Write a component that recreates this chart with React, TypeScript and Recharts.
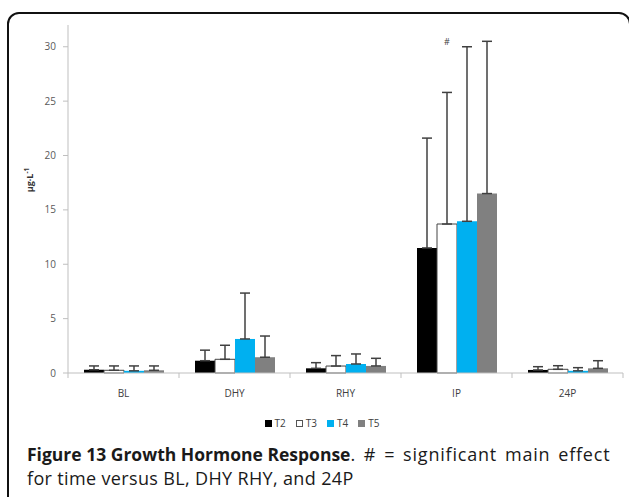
import React from 'react';
import { BarChart, Bar, XAxis, YAxis, ErrorBar, Legend, LabelList } from 'recharts';

const categories = ['BL', 'DHY', 'RHY', 'IP', '24P'];
const seriesNames = ['T2', 'T3', 'T4', 'T5'];

// means
const t2Means = [0.3, 1.13, 0.43, 11.5, 0.28];
const t3Means = [0.25, 1.26, 0.64, 13.7, 0.34];
const t4Means = [0.2, 3.13, 0.83, 13.95, 0.2];
const t5Means = [0.25, 1.45, 0.65, 16.5, 0.43];

// upper error (SD), only drawn upward
const t2Err = [0.35, 0.97, 0.52, 10.1, 0.3];
const t3Err = [0.4, 1.29, 0.96, 12.1, 0.33];
const t4Err = [0.45, 4.22, 0.92, 16.05, 0.29];
const t5Err = [0.4, 1.95, 0.7, 14.0, 0.7];

const yTicks = [0, 5, 10, 15, 20, 25, 30];

// significance marks, shown over the T3 bar
const significance = ['', '', '', '#', ''];
const significanceLevel = 30.5;

const fills: Record<string, string> = { T2: '#000000', T3: '#ffffff', T4: '#00b0f0', T5: '#808080' };

const means = [t2Means, t3Means, t4Means, t5Means];
const errs = [t2Err, t3Err, t4Err, t5Err];

const data = categories.map((name, i) => {
  const row: any = { name };
  seriesNames.forEach((s, k) => {
    row[s] = means[k][i];
    row[s + 'err'] = [0, errs[k][i]];
  });
  return row;
});

const font = '"Open Sans", sans-serif';
const X_TICK_MARGIN = 17;

// category label plus tick marks at the category boundaries
const CatTick = (props: any) => {
  const { x, y, width, payload, index, visibleTicksCount } = props;
  const band = width / visibleTicksCount;
  const axisY = y - X_TICK_MARGIN;
  return (
    <g>
      {index === 0 ? <line x1={x - band / 2} x2={x - band / 2} y1={axisY} y2={axisY + 5} stroke="#bfbfbf" /> : null}
      <line x1={x + band / 2} x2={x + band / 2} y1={axisY} y2={axisY + 5} stroke="#bfbfbf" />
      <text x={x} y={y} dy="0.71em" textAnchor="middle" fontFamily={font} fontSize={10} fill="#404040">
        {payload.value}
      </text>
    </g>
  );
};

const YLabel = () => (
  <text x={33} y={180} transform="rotate(-90 33 180)" textAnchor="middle" fontFamily={font} fontSize={9} fontWeight={700} fill="#333">
    µg·L<tspan dy={-4} fontSize={6.5}>-1</tspan>
  </text>
);

const renderMark = (props: any) => {
  const vb = props.viewBox || props;
  const idx = props.index;
  const mark = significance[idx];
  if (!mark) return null;
  const value = t3Means[idx];
  const unit = vb.height / value;
  const base = vb.y + vb.height;
  return (
    <text x={vb.x + vb.width / 2} y={base - significanceLevel * unit} textAnchor="middle" dominantBaseline="central" fontFamily={font} fontSize={9} fill="#404040">
      {mark}
    </text>
  );
};

const renderLegend = () => (
  <div style={{ display: 'flex', justifyContent: 'center', gap: 10, fontFamily: font, fontSize: 10, color: '#404040', lineHeight: '12px' }}>
    {seriesNames.map((n) => (
      <span key={n} style={{ display: 'flex', alignItems: 'center' }}>
        <span style={{ width: 7, height: 7, boxSizing: 'border-box', background: fills[n], border: n === 'T3' ? '1px solid #555' : 'none', marginRight: 3 }} />
        {n}
      </span>
    ))}
  </div>
);

export default function App() {
  return (
    <div style={{ position: 'absolute', left: 0, top: 0, width: 629, height: 497, overflow: 'hidden', background: '#fff' }}>
      <div style={{ position: 'absolute', left: 7, top: 12, width: 624, height: 520, border: '2px solid #111', borderRadius: 12, boxSizing: 'border-box' }} />
      <div style={{ position: 'absolute', left: 0, top: 0 }}>
        <BarChart width={629} height={440} data={data} margin={{ top: 25, right: 6, left: 0, bottom: 37 }} barGap={0} barSize={20}>
          <XAxis dataKey="name" height={30} tickSize={0} tickMargin={X_TICK_MARGIN} tickLine={false}
            axisLine={{ stroke: '#bfbfbf' }} tick={<CatTick />} interval={0} />
          <YAxis width={68} domain={[0, 32]} ticks={yTicks} tickSize={5} tickMargin={7}
            axisLine={{ stroke: '#bfbfbf' }} tickLine={{ stroke: '#bfbfbf' }}
            tick={{ fontFamily: font, fontSize: 10, fill: '#595959' }} label={<YLabel />} />
          <Legend layout="horizontal" verticalAlign="middle" content={renderLegend}
            wrapperStyle={{ top: 417, left: 0, width: 644 }} />
          {seriesNames.map((s) => (
            <Bar key={s} dataKey={s} fill={fills[s]} stroke={s === 'T3' ? '#444' : 'none'} strokeWidth={s === 'T3' ? 1 : 0} isAnimationActive={false}>
              <ErrorBar dataKey={s + 'err'} width={5} stroke="#404040" strokeWidth={1.5} direction="y" />
              {s === 'T3' ? <LabelList content={renderMark} /> : null}
            </Bar>
          ))}
        </BarChart>
      </div>
      <div style={{ position: 'absolute', left: 27, top: 442, width: 610, fontFamily: font, fontSize: 18, lineHeight: '24px', color: '#1a1a1a', whiteSpace: 'nowrap' }}>
        <span style={{ fontWeight: 700, fontSize: 17.5 }}>Figure 13 Growth Hormone Response</span>
        <span style={{ letterSpacing: 0.8, wordSpacing: 2.4 }}>. # = significant main effect</span>
        <br />
        <span style={{ letterSpacing: 0.35 }}>for time versus BL, DHY RHY, and 24P</span>
      </div>
    </div>
  );
}
